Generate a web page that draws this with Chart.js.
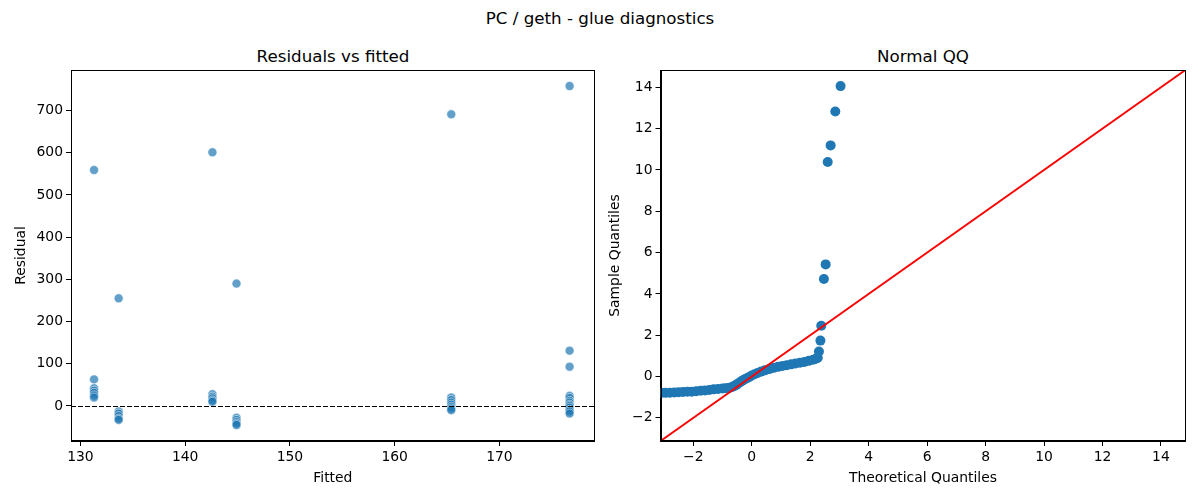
<!DOCTYPE html>
<html>
<head>
<meta charset="utf-8">
<script src="https://cdn.jsdelivr.net/npm/chart.js@4.4.0/dist/chart.umd.min.js"></script>
<style>
  body { margin: 0; background: #fff; font-family: 'DejaVu Sans', sans-serif; }
  #wrap { position: relative; width: 1200px; height: 500px; }
  canvas { position: absolute; top: 0; }
  .t { position: absolute; transform: translateX(-50%); white-space: nowrap; color: #000; font-size: 16.7px; }
</style>
</head>
<body>
<div id="wrap">
  <div class="t" style="left:600px;top:8px">PC / geth - glue diagnostics</div>
  <div class="t" style="left:333px;top:46px">Residuals vs fitted</div>
  <div class="t" style="left:923px;top:46px">Normal QQ</div>
  <canvas id="resid" width="600" height="500" style="left:0"></canvas>
  <canvas id="qq" width="600" height="500" style="left:600px"></canvas>
</div>
<script>
// residuals vs fitted
const fitted = [
  131.3, 131.3, 131.3, 131.3, 131.3, 131.3, 131.3,
  133.65, 133.65, 133.65, 133.65, 133.65, 133.65,
  142.6, 142.6, 142.6, 142.6, 142.6, 142.6,
  144.9, 144.9, 144.9, 144.9, 144.9, 144.9,
  165.4, 165.4, 165.4, 165.4, 165.4, 165.4, 165.4, 165.4,
  176.7, 176.7, 176.7, 176.7, 176.7, 176.7, 176.7, 176.7, 176.7, 176.7, 176.7, 176.7, 176.7
];
const residual = [
  559, 63, 42, 36, 31, 25, 20,
  255, -13, -18, -24, -30, -33,
  601, 28, 22, 18, 13, 10,
  290, -28, -33, -38, -42, -45,
  691, 20, 14, 8, 3, -2, -6, -10,
  758, 131, 93, 24, 19, 12, 8, 3, 0, -4, -9, -13, -18
];

// normal QQ (theoretical vs sample quantiles)
const qqTheoretical = [
  -3.10, -2.95, -2.80, -2.65, -2.50, -2.35, -2.20, -2.05, -1.90, -1.75,
  -1.60, -1.45, -1.30, -1.15, -1.00, -0.90, -0.80, -0.72, -0.65, -0.58,
  -0.52, -0.46, -0.40, -0.34, -0.28, -0.22, -0.15, -0.08, 0.00, 0.10,
  0.20, 0.32, 0.45, 0.60, 0.75, 0.90, 1.05, 1.20, 1.35, 1.50,
  1.65, 1.80, 1.95, 2.10, 2.20, 2.26,
  2.30, 2.35, 2.38, 2.47, 2.53, 2.60, 2.70, 2.86, 3.04
];
const qqSample = [
  -0.79, -0.79, -0.78, -0.77, -0.76, -0.75, -0.74, -0.73, -0.71, -0.69,
  -0.67, -0.65, -0.62, -0.60, -0.58, -0.57, -0.55, -0.53, -0.49, -0.44,
  -0.39, -0.34, -0.28, -0.22, -0.17, -0.12, -0.07, -0.02, 0.05, 0.11,
  0.17, 0.24, 0.30, 0.36, 0.42, 0.47, 0.51, 0.55, 0.59, 0.63,
  0.67, 0.71, 0.76, 0.81, 0.86, 0.91,
  1.21, 1.74, 2.46, 4.72, 5.43, 10.39, 11.19, 12.83, 14.06
];

const residXTicks = [130, 140, 150, 160, 170];
const residYTicks = [0, 100, 200, 300, 400, 500, 600, 700];
const qqTicks = [-2, 0, 2, 4, 6, 8, 10, 12, 14];
const residXRange = [129.1, 179.1];
const residYRange = [-83, 796];
const qqRange = [-3.12, 14.84];

Chart.defaults.font.family = "'DejaVu Sans', sans-serif";
Chart.defaults.font.size = 13.9;
Chart.defaults.color = '#000';

const frame = {
  id: 'frame',
  afterDraw(chart) {
    const { ctx, chartArea: a } = chart;
    ctx.save();
    ctx.strokeStyle = '#000';
    ctx.lineWidth = 1;
    ctx.strokeRect(Math.round(a.left) + 0.5, Math.round(a.top) + 0.5,
      Math.round(a.width) - 1, Math.round(a.height) - 1);
    ctx.restore();
  }
};

const zeroLine = {
  id: 'zeroLine',
  afterDatasetsDraw(chart) {
    const { ctx, chartArea: a, scales } = chart;
    const y = Math.round(scales.y.getPixelForValue(0)) + 0.5;
    ctx.save();
    ctx.strokeStyle = '#000';
    ctx.lineWidth = 1;
    ctx.setLineDash([5, 2]);
    ctx.beginPath();
    ctx.moveTo(a.left, y);
    ctx.lineTo(a.right, y);
    ctx.stroke();
    ctx.restore();
  }
};

const fmt = v => String(v).replace('-', '\u2212');

function axis(ticks, range, title, titlePad, size, horizontal) {
  return {
    type: 'linear',
    min: range[0],
    max: range[1],
    afterBuildTicks: s => { s.ticks = ticks.map(v => ({ value: v })); },
    afterFit: s => { if (horizontal) s.height = size; else s.width = size; },
    ticks: { color: '#000', padding: 3, maxRotation: 0, autoSkip: false, callback: fmt },
    grid: { display: true, drawOnChartArea: false, drawTicks: true, tickLength: 5, color: '#000', lineWidth: 1 },
    border: { display: true, color: '#000', width: 1 },
    title: { display: true, text: title, color: '#000', font: { size: 13.9 }, padding: titlePad }
  };
}

const common = {
  responsive: false,
  animation: false,
  plugins: { legend: { display: false }, tooltip: { enabled: false } }
};

new Chart(document.getElementById('resid'), {
  type: 'scatter',
  data: {
    datasets: [{
      data: fitted.map((x, i) => ({ x, y: residual[i] })),
      pointRadius: 4.5,
      backgroundColor: 'rgba(31,119,180,0.7)',
      borderColor: 'rgba(255,255,255,0.7)',
      borderWidth: 0.75
    }]
  },
  options: {
    ...common,
    layout: { padding: { top: 70, right: 4, bottom: 0, left: 0 } },
    scales: {
      x: axis(residXTicks, residXRange, 'Fitted', { top: 0, bottom: 13 }, 59, true),
      y: axis(residYTicks, residYRange, 'Residual', { top: 13, bottom: 0 }, 71, false)
    }
  },
  plugins: [zeroLine, frame]
});

new Chart(document.getElementById('qq'), {
  type: 'scatter',
  data: {
    datasets: [{
      type: 'line',
      order: 0,
      data: [{ x: qqRange[0], y: qqRange[0] }, { x: qqRange[1], y: qqRange[1] }],
      borderColor: '#ff0000',
      borderWidth: 2,
      pointRadius: 0,
      fill: false
    }, {
      order: 1,
      data: qqTheoretical.map((x, i) => ({ x, y: qqSample[i] })),
      pointRadius: 5,
      backgroundColor: '#1f77b4',
      borderWidth: 0
    }]
  },
  options: {
    ...common,
    layout: { padding: { top: 70, right: 14.5, bottom: 0, left: 0 } },
    scales: {
      x: axis(qqTicks, qqRange, 'Theoretical Quantiles', { top: 0, bottom: 13 }, 59, true),
      y: axis(qqTicks, qqRange, 'Sample Quantiles', { top: 7, bottom: 0 }, 60.5, false)
    }
  },
  plugins: [frame]
});
</script>
</body>
</html>
